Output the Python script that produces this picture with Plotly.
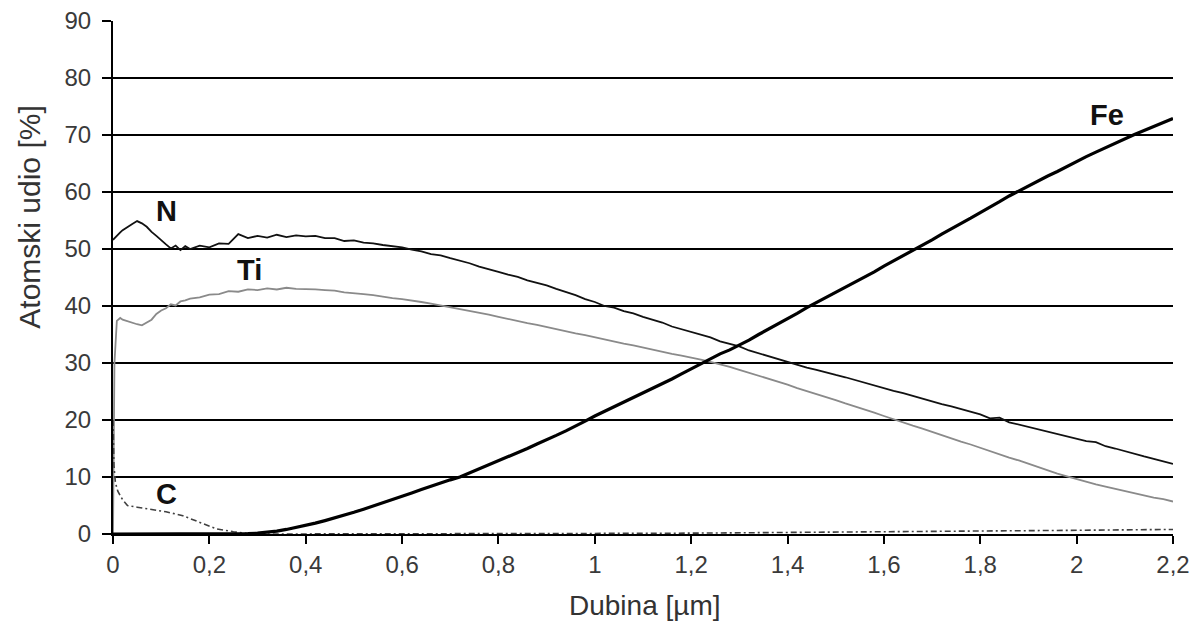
import plotly.graph_objects as go

# ---------------- data ----------------
depth = [0, 0.003, 0.008, 0.015, 0.02, 0.03, 0.04, 0.05, 0.06, 0.07, 0.08, 0.09,
         0.10, 0.11, 0.12, 0.13, 0.14, 0.15, 0.16, 0.18, 0.20, 0.22, 0.24, 0.26,
         0.28, 0.30, 0.32, 0.34, 0.36, 0.38, 0.40, 0.42, 0.44, 0.46, 0.48, 0.50,
         0.52, 0.54, 0.56, 0.58, 0.60, 0.62, 0.64, 0.66, 0.68, 0.70, 0.72, 0.74,
         0.76, 0.78, 0.80, 0.82, 0.84, 0.86, 0.88, 0.90, 0.92, 0.94, 0.96, 0.98,
         1.00, 1.02, 1.04, 1.06, 1.08, 1.10, 1.12, 1.14, 1.16, 1.18, 1.20, 1.22,
         1.24, 1.26, 1.28, 1.30, 1.32, 1.34, 1.36, 1.38, 1.40, 1.42, 1.44, 1.46,
         1.48, 1.50, 1.52, 1.54, 1.56, 1.58, 1.60, 1.62, 1.64, 1.66, 1.68, 1.70,
         1.72, 1.74, 1.76, 1.78, 1.80, 1.82, 1.84, 1.86, 1.88, 1.90, 1.92, 1.94,
         1.96, 1.98, 2.00, 2.02, 2.04, 2.06, 2.08, 2.10, 2.12, 2.14, 2.16, 2.18, 2.20]

n_vals = [51.6, 51.9, 52.4, 52.9, 53.3, 53.9, 54.4, 54.9, 54.5, 53.9, 53.0, 52.3,
          51.5, 50.8, 50.1, 50.6, 49.8, 50.5, 50.0, 50.6, 50.3, 51.0, 50.9, 52.6,
          51.9, 52.3, 52.0, 52.5, 52.1, 52.4, 52.2, 52.3, 51.9, 51.9, 51.4, 51.5,
          51.1, 51.0, 50.7, 50.5, 50.3, 49.9, 49.6, 49.1, 48.9, 48.4, 48.0, 47.5,
          46.9, 46.5, 46.0, 45.5, 45.1, 44.5, 44.1, 43.6, 43.0, 42.5, 41.9, 41.2,
          40.7, 40.0, 39.7, 39.1, 38.7, 38.1, 37.6, 37.1, 36.4, 35.9, 35.4, 34.9,
          34.5, 33.8, 33.4, 32.9, 32.2, 31.7, 31.1, 30.6, 30.1, 29.7, 29.2, 28.8,
          28.3, 27.9, 27.5, 27.0, 26.5, 26.1, 25.6, 25.1, 24.7, 24.2, 23.8, 23.3,
          22.8, 22.4, 21.9, 21.5, 21.0, 20.3, 20.4, 19.6, 19.2, 18.8, 18.3, 18.0,
          17.5, 17.2, 16.8, 16.3, 16.1, 15.4, 15.0, 14.5, 14.1, 13.6, 13.2, 12.7, 12.3]

ti_vals = [0.0, 30.0, 37.4, 37.9, 37.6, 37.3, 37.0, 36.8, 36.6, 37.1, 37.6, 38.6,
           39.2, 39.6, 40.3, 40.1, 40.8, 41.0, 41.3, 41.5, 42.0, 42.1, 42.6, 42.5,
           42.9, 42.8, 43.1, 42.9, 43.2, 43.0, 43.0, 42.9, 42.8, 42.7, 42.4, 42.3,
           42.1, 41.9, 41.6, 41.4, 41.2, 41.0, 40.7, 40.4, 40.1, 39.8, 39.5, 39.2,
           38.8, 38.5, 38.1, 37.7, 37.4, 37.0, 36.7, 36.3, 35.9, 35.6, 35.2, 34.9,
           34.5, 34.1, 33.8, 33.4, 33.1, 32.7, 32.3, 32.0, 31.6, 31.3, 31.0, 30.6,
           30.2, 29.8, 29.3, 28.8, 28.3, 27.8, 27.3, 26.7, 26.2, 25.6, 25.1, 24.5,
           24.0, 23.5, 22.9, 22.4, 21.8, 21.3, 20.7, 20.1, 19.6, 19.0, 18.5, 17.9,
           17.3, 16.8, 16.2, 15.7, 15.1, 14.5, 14.0, 13.4, 12.9, 12.3, 11.7, 11.2,
           10.6, 10.1, 9.6, 9.2, 8.7, 8.3, 7.9, 7.5, 7.1, 6.8, 6.4, 6.1, 5.7]

fe_vals = [0, 0, 0, 0, 0, 0, 0, 0, 0, 0, 0, 0,
           0, 0, 0, 0, 0, 0, 0, 0, 0, 0, 0, 0,
           0.05, 0.15, 0.3, 0.5, 0.8, 1.15, 1.5, 1.9, 2.35, 2.8, 3.3, 3.8,
           4.35, 4.9, 5.4, 6.0, 6.6, 7.2, 7.8, 8.4, 8.9, 9.5, 10.0, 10.7,
           11.4, 12.1, 12.8, 13.5, 14.3, 15.0, 15.8, 16.5, 17.3, 18.1, 18.9, 19.8,
           20.7, 21.5, 22.3, 23.1, 23.9, 24.7, 25.5, 26.3, 27.2, 28.1, 29.0, 29.9,
           30.8, 31.6, 32.3, 33.1, 34.0, 35.0, 35.9, 36.9, 37.8, 38.7, 39.7, 40.6,
           41.5, 42.4, 43.3, 44.1, 45.0, 46.0, 47.0, 47.9, 48.8, 49.8, 50.7, 51.6,
           52.6, 53.5, 54.5, 55.4, 56.4, 57.3, 58.3, 59.3, 60.2, 61.1, 62.0, 62.8,
           63.6, 64.5, 65.3, 66.2, 67.0, 67.8, 68.6, 69.4, 70.1, 70.8, 71.5, 72.2, 72.9]

c_depth = [0, 0.002, 0.005, 0.01, 0.02, 0.03, 0.05, 0.08, 0.11, 0.145, 0.18, 0.215,
           0.25, 0.28, 0.32, 0.5, 0.8, 1.0, 1.2, 1.4, 1.6, 1.8, 2.0, 2.2]
c_vals = [20, 12, 9, 7.5, 6.0, 5.0, 4.7, 4.3, 3.9, 3.2, 2.0, 0.9,
          0.4, 0.1, 0.0, 0.0, 0.05, 0.1, 0.15, 0.25, 0.35, 0.5, 0.65, 0.8]

x_tickvals = [0, 0.2, 0.4, 0.6, 0.8, 1.0, 1.2, 1.4, 1.6, 1.8, 2.0, 2.2]
x_ticktext = ["0", "0,2", "0,4", "0,6", "0,8", "1", "1,2", "1,4", "1,6", "1,8", "2", "2,2"]
y_tickvals = [0, 10, 20, 30, 40, 50, 60, 70, 80, 90]

labels = ["N", "Ti", "C", "Fe"]
label_x = [0.112, 0.284, 0.112, 2.064]
label_y = [56.7, 46.3, 7.0, 73.5]

# ---------------- figure ----------------
FONT = "Liberation Sans, Arial, sans-serif"
fig = go.Figure()

fig.add_trace(go.Scatter(x=depth, y=ti_vals, mode="lines", name="Ti",
                         line=dict(color="#8a8a8a", width=1.8)))
fig.add_trace(go.Scatter(x=c_depth, y=c_vals, mode="lines", name="C",
                         line=dict(color="#404040", width=1.6, dash="6px,3px,2px,3px")))
fig.add_trace(go.Scatter(x=depth, y=n_vals, mode="lines", name="N",
                         line=dict(color="#111111", width=1.8)))
fig.add_trace(go.Scatter(x=depth, y=fe_vals, mode="lines", name="Fe",
                         line=dict(color="#000000", width=3.2)))

for t, lx, ly in zip(labels, label_x, label_y):
    fig.add_annotation(x=lx, y=ly, text="<b>" + t + "</b>", showarrow=False,
                       font=dict(family=FONT, size=29, color="#111111"),
                       xanchor="center", yanchor="middle")

fig.add_annotation(xref="paper", yref="paper", x=0, y=0.6166, xshift=-83,
                   text="Atomski udio [%]", textangle=-90, showarrow=False,
                   font=dict(family=FONT, size=30, color="#333333"),
                   xanchor="center", yanchor="middle")
fig.add_annotation(xref="paper", yref="paper", x=0.502, y=0, yshift=-71,
                   text="Dubina [µm]", showarrow=False,
                   font=dict(family=FONT, size=28, color="#333333"),
                   xanchor="center", yanchor="middle")

fig.update_layout(
    width=1199, height=637,
    margin=dict(l=113, r=26, t=21, b=103, autoexpand=False),
    paper_bgcolor="white", plot_bgcolor="white",
    showlegend=False,
    font=dict(family=FONT, color="#333333"),
)
fig.update_xaxes(range=[0, 2.2], tickvals=x_tickvals, ticktext=x_ticktext,
                 showgrid=False, zeroline=False,
                 showline=True, linecolor="black", linewidth=2,
                 ticks="outside", ticklen=8, tickwidth=1.5, tickcolor="black",
                 tickfont=dict(family=FONT, size=24, color="#3a3a3a"))
fig.update_yaxes(range=[0, 90], tickvals=y_tickvals,
                 showgrid=True, gridcolor="black", gridwidth=1.8,
                 zeroline=False,
                 showline=True, linecolor="black", linewidth=2,
                 ticks="outside", ticklen=9, tickwidth=1.5, tickcolor="black",
                 ticklabelstandoff=6,
                 tickfont=dict(family=FONT, size=24, color="#3a3a3a"))

fig.write_html("out.html", config={"displayModeBar": False},
               post_script="document.body.style.margin='0';document.body.style.overflow='hidden';")
